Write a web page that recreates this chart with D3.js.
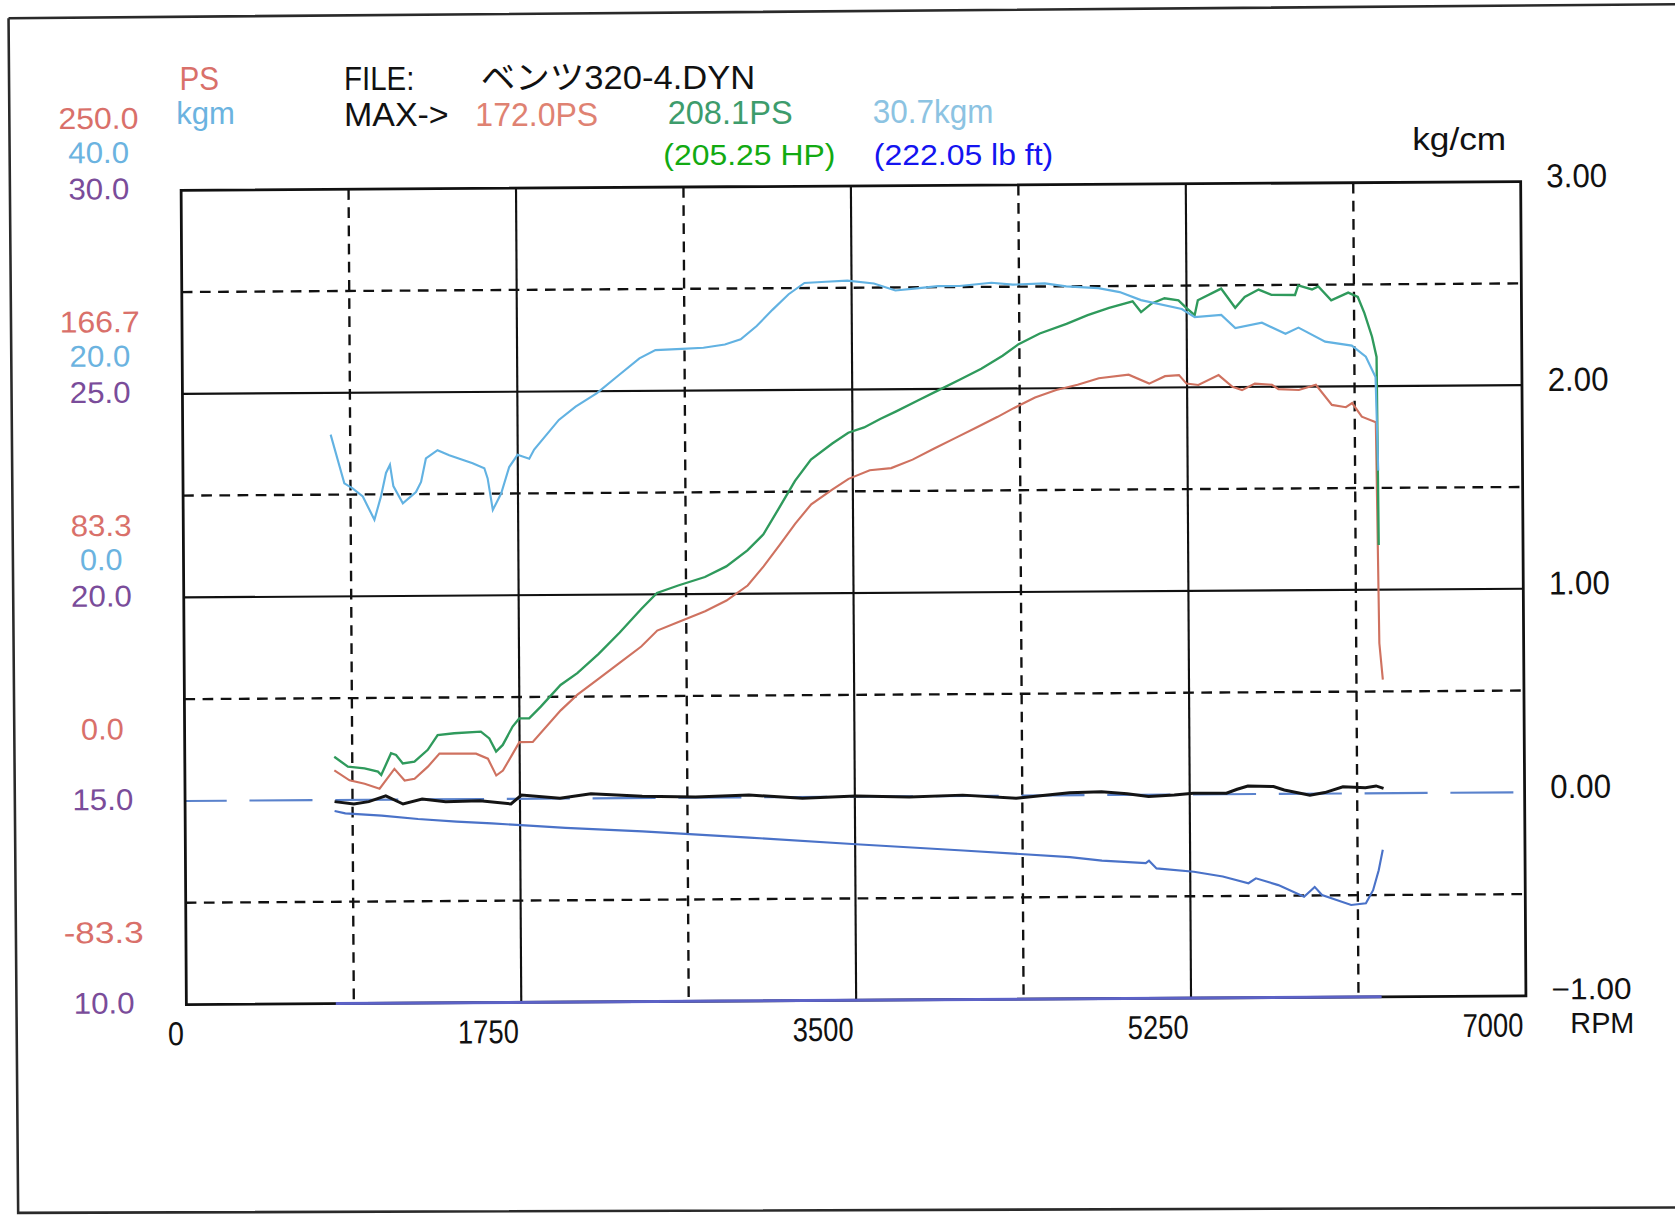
<!DOCTYPE html>
<html><head><meta charset="utf-8">
<script src="https://cdn.jsdelivr.net/npm/d3@7"></script>
<style>html,body{margin:0;padding:0;background:#fff;overflow:hidden}</style>
</head><body>
<svg id="c" width="1675" height="1215" viewBox="0 0 1568 1137" preserveAspectRatio="none"></svg>
<script>
// ---------------- data ----------------
const fileName = "ベンツ320-4.DYN";
const maxObsPS = "172.0PS", maxCorPS = "208.1PS", maxKgm = "30.7kgm";
const hpText = "(205.25 HP)", lbftText = "(222.05 lb ft)";

const rpmTicks = [0, 1750, 3500, 5250, 7000];
const rpmDashed = [875, 2625, 4375, 6125];
const boostTicks = [3, 2, 1, 0, -1];
const boostSolid = [2, 1];
const boostDashed = [2.5, 1.5, 0.5, -0.5];
const psTicks = [250.0, 166.7, 83.3, 0.0, -83.3];
const kgmTicks = [40.0, 20.0, 0.0];
const afrTicks = [30.0, 25.0, 20.0, 15.0, 10.0];

// observed power (PS) – red
const psRpm = [781,860,939,1017,1095,1148,1200,1270,1331,1522,1584,1627,1662,1714,1749,1819,1966,2054,2166,2277,2389,2473,2584,2724,2836,2947,3031,3115,3198,3282,3394,3478,3589,3701,3813,3924,4036,4148,4259,4343,4455,4566,4678,4789,4945,5052,5135,5208,5247,5309,5415,5487,5537,5604,5694,5727,5834,5923,6006,6079,6112,6162,6235,6246,6263];
const psVal = [12.1,8.0,6.6,4.5,12.6,7.8,8.5,13.4,18.7,18.6,16.5,9.6,11.6,18.5,23.2,23.2,36.1,42.5,49.0,55.5,62.0,68.5,72.0,76.3,80.6,86.7,94.5,103.2,111.9,119.8,125.8,130.1,133.6,134.4,137.8,142.2,146.5,150.8,155.1,158.6,162.9,165.9,168.0,170.6,172.0,168.3,171.3,171.7,168.2,167.6,171.6,166.8,165.4,168.0,167.5,165.7,165.3,167.4,159.1,158.1,159.8,154.2,151.9,61.4,46.5];

// corrected power (PS) – green
const cpsRpm = [781,852,939,1009,1026,1078,1104,1139,1200,1270,1322,1409,1548,1592,1627,1662,1714,1749,1801,1862,1966,2054,2166,2277,2389,2473,2584,2724,2836,2947,3031,3115,3198,3282,3394,3478,3561,3645,3729,3840,3952,4064,4175,4287,4371,4482,4622,4733,4845,4968,5012,5068,5135,5208,5247,5292,5309,5431,5504,5554,5627,5694,5817,5834,5906,5939,6006,6095,6145,6179,6218,6241,6246];
const cpsVal = [17.7,13.6,12.9,11.5,10.1,19.0,18.3,14.8,15.5,20.3,26.3,27.0,27.6,24.8,19.4,22.1,29.6,32.9,32.9,37.7,46.5,51.3,59.1,67.8,77.3,83.9,86.9,90.3,94.6,101.1,107.6,118.5,129.4,138.1,144.6,149.0,151.1,154.5,157.6,161.9,166.2,170.5,174.8,180.1,184.8,189.1,193.0,196.5,199.4,202.0,197.6,201.1,203.2,202.3,199.3,196.2,202.3,207.0,199.1,203.5,206.5,204.3,204.2,208.1,206.4,207.6,201.9,205.0,203.2,196.6,186.9,178.6,101.6];

// torque (kgm) – light blue
const tqRpm = [773,843,886,939,999,1034,1061,1082,1099,1148,1217,1244,1270,1331,1392,1514,1575,1592,1618,1662,1705,1749,1810,1836,1966,2054,2166,2277,2389,2473,2612,2724,2836,2919,3003,3087,3171,3254,3366,3478,3617,3729,3840,3952,4064,4231,4343,4510,4622,4789,4901,5012,5225,5292,5431,5504,5643,5766,5834,5973,6112,6185,6235,6246];
const tqVal = [15.9,11.1,10.6,9.8,7.5,9.8,12.1,12.9,10.8,9.1,10.2,11.2,13.5,14.3,13.8,13.0,12.5,11.5,8.4,10.0,12.6,13.8,13.4,14.3,17.2,18.5,19.8,21.5,23.2,24.0,24.1,24.2,24.5,25.0,26.3,27.9,29.4,30.5,30.6,30.7,30.4,29.7,29.9,30.1,30.1,30.4,30.2,30.3,30.0,29.8,29.4,28.6,27.7,26.9,27.1,25.8,26.3,25.2,25.8,24.4,24.0,22.9,20.9,11.7];

// boost (kg/cm) – black
const boostRpm = [781,882,960,1049,1139,1239,1362,1541,1703,1758,1959,2121,2389,2668,2947,3226,3505,3785,4064,4343,4622,4789,4923,5035,5169,5269,5442,5498,5554,5688,5744,5878,5956,6051,6168,6224,6263];
const boostVal = [-0.008,-0.020,-0.009,0.019,-0.022,0.002,-0.012,-0.008,-0.025,0.018,0.001,0.022,0.009,0.003,0.011,-0.006,0.003,-0.004,0.004,-0.013,0.012,0.016,0.005,-0.009,-0.002,0.006,0.005,0.024,0.040,0.036,0.019,-0.007,0.005,0.033,0.028,0.036,0.024];

// air/fuel ratio – blue
const afrRpm = [781,837,1027,1217,1418,1602,1797,1987,2389,2947,3505,4064,4622,4789,5018,5035,5074,5269,5420,5554,5593,5710,5844,5900,5938,6090,6167,6205,6235,6257];
const afrVal = [14.73,14.67,14.61,14.52,14.45,14.40,14.34,14.28,14.18,14.01,13.83,13.66,13.48,13.39,13.32,13.38,13.19,13.10,12.98,12.81,12.93,12.76,12.47,12.71,12.51,12.26,12.30,12.62,13.11,13.61];

// second A/F channel lying on the 10.0 baseline
const afr2Rpm = [781, 6246];
const afr2Val = [10.0, 10.0];

// ---------------- drawing ----------------
const svg = d3.select("#c");
const PIX = "'Liberation Sans','Noto Sans CJK JP',sans-serif";
const C = {red:"#d9706a", redLine:"#cf7260", green:"#2f9a5c", greenTxt:"#3d9c6c",
           blue:"#62b2e2", blueTxt:"#6bb3e0", purple:"#7a4c9a", afr:"#4a72c8", dash:"#5a82cc"};

svg.append("rect").attr("width",1568).attr("height",1137).attr("fill","#fff");
// scanned page frame
svg.append("path").attr("d","M8,17 L1568,4 M8,17 L17,1135 L1568,1130")
  .attr("fill","none").attr("stroke","#2a2a2a").attr("stroke-width",2.4);

const X0=172, X1=1426, Y0=174, Y1=936;
const g = svg.append("g").attr("transform","rotate(-0.37,799,555)");

const x = d3.scaleLinear([0,7000],[X0,X1]);
const u = d3.scaleLinear([-1,3],[Y1,Y0]);
const ps = d3.scaleLinear([-250/3,250],[Y1,Y0]);
const kg = d3.scaleLinear([-40,40],[Y1,Y0]);
const af = d3.scaleLinear([10,30],[Y1,Y0]);

function txt(parent, s, px, py, w, fill, opt={}) {
  const t = parent.append("text").attr("x",px).attr("y",py).text(s)
    .attr("font-family", opt.family || PIX).attr("font-size", opt.size || 31)
    .attr("fill", fill).attr("text-anchor", opt.anchor || "start");
  if (w) t.attr("textLength", w).attr("lengthAdjust","spacingAndGlyphs");
  return t;
}
const widthFor = s => ({1:15,2:30,3:40,4:57,5:75})[s.length] || s.length*15;

// grid
const grid = g.append("g");
grid.selectAll(".vs").data(rpmTicks.slice(1,-1)).join("line")
  .attr("x1",d=>x(d)).attr("x2",d=>x(d)).attr("y1",Y0).attr("y2",Y1)
  .attr("stroke","#111").attr("stroke-width",2);
grid.selectAll(".vd").data(rpmDashed).join("line")
  .attr("x1",d=>x(d)).attr("x2",d=>x(d)).attr("y1",Y0).attr("y2",Y1)
  .attr("stroke","#111").attr("stroke-width",2.2).attr("stroke-dasharray","10,7");
grid.selectAll(".hs").data(boostSolid).join("line")
  .attr("x1",X0).attr("x2",X1).attr("y1",d=>u(d)).attr("y2",d=>u(d))
  .attr("stroke","#111").attr("stroke-width",2);
grid.selectAll(".hd").data(boostDashed).join("line")
  .attr("x1",X0).attr("x2",X1).attr("y1",d=>u(d)).attr("y2",d=>u(d))
  .attr("stroke","#111").attr("stroke-width",2.2).attr("stroke-dasharray","10,7");
// zero reference (blue long dash)
grid.append("line").attr("x1",X0).attr("x2",X1-8).attr("y1",u(0)).attr("y2",u(0))
  .attr("stroke",C.dash).attr("stroke-width",2).attr("stroke-dasharray","59,21.3").attr("stroke-dashoffset",20);
// plot frame
g.append("rect").attr("x",X0).attr("y",Y0).attr("width",X1-X0).attr("height",Y1-Y0)
  .attr("fill","none").attr("stroke","#111").attr("stroke-width",2.6);

// series
const mk = (xs, ys, sy) => d3.line().x((d,i)=>x(xs[i])).y(d=>sy(d))(ys);
g.append("path").attr("d",mk(afr2Rpm,afr2Val,af)).attr("fill","none").attr("stroke","#5c62c6").attr("stroke-width",2.8);
g.append("path").attr("d",mk(afrRpm,afrVal,af)).attr("fill","none").attr("stroke",C.afr).attr("stroke-width",2);
g.append("path").attr("d",mk(boostRpm,boostVal,u)).attr("fill","none").attr("stroke","#141414").attr("stroke-width",2.8);
g.append("path").attr("d",mk(psRpm,psVal,ps)).attr("fill","none").attr("stroke",C.redLine).attr("stroke-width",2);
g.append("path").attr("d",mk(cpsRpm,cpsVal,ps)).attr("fill","none").attr("stroke",C.green).attr("stroke-width",2.2);
g.append("path").attr("d",mk(tqRpm,tqVal,kg)).attr("fill","none").attr("stroke",C.blue).attr("stroke-width",2);

// bottom axis
const ax = g.append("g").attr("transform",`translate(0,${Y1})`)
  .call(d3.axisBottom(x).tickValues(rpmTicks).tickSize(0).tickFormat(d3.format("d")));
ax.select(".domain").remove();
ax.selectAll("text").attr("text-anchor","end").attr("x",-3).attr("y",38).attr("dy",0)
  .attr("font-family",PIX).attr("font-size",31).attr("fill","#111")
  .attr("textLength",d=>widthFor(String(d))).attr("lengthAdjust","spacingAndGlyphs");
// right axis
const ay = g.append("g").attr("transform",`translate(${X1},0)`)
  .call(d3.axisRight(u).tickValues(boostTicks).tickSize(0).tickPadding(24).tickFormat(d3.format(".2f")));
ay.select(".domain").remove();
ay.selectAll("text").attr("y",d=>d<0?3:5).attr("dy",0)
  .attr("font-family",PIX).attr("font-size",d=>d<0?28:31).attr("fill","#111")
  .attr("textLength",d=>d<0?75:57).attr("lengthAdjust","spacingAndGlyphs");

// left stacked scales
const stack = (cls, data, sc, off, fill) =>
  g.selectAll("."+cls).data(data).join("text").attr("class",cls).attr("x",95).attr("y",d=>sc(d)+off)
   .text(d=>d.toFixed(1)).attr("text-anchor","middle").attr("font-family",PIX).attr("font-size",28)
   .attr("fill",fill).attr("textLength",d=>widthFor(d.toFixed(1))).attr("lengthAdjust","spacingAndGlyphs");
stack("psl", psTicks, ps, -58, C.red);
stack("kgl", kgmTicks, kg, -26, C.blueTxt);
stack("afl", afrTicks, af, 8, C.purple);

// header texts
txt(svg,"PS",168,84,37,C.red);
txt(svg,"kgm",165,116,55,C.blueTxt,{size:29});
txt(svg,"FILE:",322,84,66,"#111");
txt(svg,fileName,450,83,257,"#111");
txt(svg,"MAX->",322,118,98,"#111");
txt(svg,maxObsPS,445,118,115,"#df8272");
txt(svg,maxCorPS,625,116,117,C.greenTxt);
txt(svg,maxKgm,817,115,113,"#8cc3e2");
txt(svg,hpText,621,154,161,"#12aa12",{family:"'Liberation Sans',Arial,sans-serif",size:27});
txt(svg,lbftText,818,154,168,"#1414f0",{family:"'Liberation Sans',Arial,sans-serif",size:27});
txt(svg,"kg/cm",1322,140,88,"#111",{size:29});
txt(svg,"RPM",1470,967,60,"#111",{size:28});
</script>
</body></html>
